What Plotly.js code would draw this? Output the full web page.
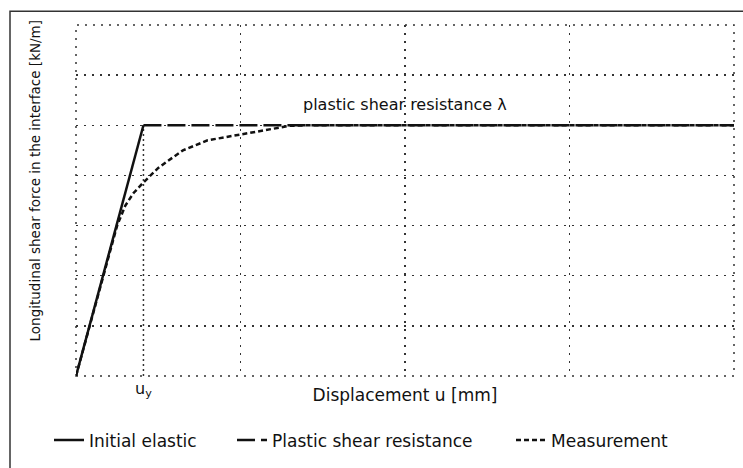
<!DOCTYPE html>
<html>
<head>
<meta charset="utf-8">
<script src="https://cdn.plot.ly/plotly-3.0.1.min.js"></script>
<style>
  html, body { margin: 0; padding: 0; background: #fff; }
  #chart { width: 743px; height: 468px; }
</style>
</head>
<body>
<div id="chart"></div>
<script>
// ---- data ----
const uy = 0.41;                 // yield displacement
const lambdaRes = 5;             // plastic shear resistance
const xMax = 4;

const elasticX = [0, uy];
const elasticY = [0, lambdaRes];

const plasticX = [uy, xMax];
const plasticY = [lambdaRes, lambdaRes];

const measX = [0, 0.1, 0.2, 0.25, 0.3, 0.35, 0.41, 0.5, 0.55, 0.65, 0.8, 1.0, 1.1, 1.2, 1.3, 1.4, 4.0];
const measY = [0, 1.22, 2.44, 3.0, 3.4, 3.65, 3.86, 4.15, 4.27, 4.5, 4.7, 4.82, 4.88, 4.94, 4.99, 5.0, 5.0];

const uyLineX = [uy, uy];
const uyLineY = [0, lambdaRes];

const seriesNames = ["Initial elastic", "Plastic shear resistance", "Measurement"];
const annotationText = "plastic shear resistance \u03bb";
const uyLabel = "u<sub>y</sub>";
const xTitle = "Displacement u [mm]";
const yTitle = "Longitudinal shear force in the interface [kN/m]";

// ---- chart ----
const FONT = "DejaVu Sans, sans-serif";
const ink = "#111";

const traces = [
  { x: uyLineX, y: uyLineY, mode: "lines", showlegend: false, hoverinfo: "skip",
    line: { color: "#333", width: 1.5, dash: "2px,3px" } },
  { x: measX, y: measY, mode: "lines", name: seriesNames[2], legend: "legend3",
    line: { color: ink, width: 2.5, dash: "5px,3px" } },
  { x: plasticX, y: plasticY, mode: "lines", name: seriesNames[1], legend: "legend2",
    line: { color: ink, width: 2.5, dash: "18px,6px" } },
  { x: elasticX, y: elasticY, mode: "lines", name: seriesNames[0], legend: "legend",
    line: { color: ink, width: 2.5 } }
];

const L = 76, R = 9, T = 25, B = 84, W = 743, H = 468;
const pw = W - L - R, ph = H - T - B;
const px2x = p => (p - L) / pw;
const py2y = p => (H - B - p) / ph;

const legendBase = px => ({
  orientation: "h",
  x: px2x(px), xanchor: "left",
  y: py2y(450), yanchor: "middle",
  font: { family: FONT, size: 17, color: ink },
  bgcolor: "rgba(0,0,0,0)"
});

const gridDash = "2px,6px";

const layout = {
  width: W, height: H,
  margin: { l: L, r: R, t: T, b: B },
  paper_bgcolor: "#fff", plot_bgcolor: "#fff",
  font: { family: FONT, color: ink, size: 16 },
  showlegend: true,
  legend: legendBase(49),
  legend2: legendBase(232),
  legend3: legendBase(511),
  xaxis: {
    range: [0, xMax], dtick: 1, tick0: 0,
    showticklabels: false, ticks: "",
    showline: false, zeroline: false,
    showgrid: true, gridcolor: "#333", gridwidth: 1.5, griddash: gridDash,
    title: { text: xTitle, standoff: 13, font: { family: FONT, size: 17, color: ink } },
    automargin: false, fixedrange: true
  },
  yaxis: {
    range: [0, 7], dtick: 1, tick0: 0,
    showticklabels: false, ticks: "",
    showline: false, zeroline: false,
    showgrid: true, gridcolor: "#333", gridwidth: 1.5, griddash: gridDash,
    automargin: false, fixedrange: true
  },
  annotations: [
    { x: 2.0, y: lambdaRes + 0.42, xref: "x", yref: "y", text: annotationText,
      showarrow: false, font: { family: FONT, size: 16, color: ink } },
    { x: uy, y: py2y(411), xref: "x", yref: "paper", text: uyLabel,
      showarrow: false, font: { family: FONT, size: 16, color: ink } },
    { x: px2x(35), y: py2y(185), xref: "paper", yref: "paper", text: yTitle,
      textangle: -90, showarrow: false, xanchor: "center", yanchor: "middle",
      font: { family: FONT, size: 13.5, color: ink } }
  ],
  shapes: [
    { type: "rect", xref: "paper", yref: "paper", x0: 0, x1: 1, y0: 0, y1: 1,
      line: { color: "#333", width: 1.5, dash: gridDash }, layer: "below" },
    { type: "path", xref: "paper", yref: "paper",
      path: `M ${px2x(10)} ${py2y(480)} L ${px2x(10)} ${py2y(11)} L ${px2x(760)} ${py2y(11)}`,
      line: { color: "#333", width: 1.5 } }
  ]
};

Plotly.newPlot("chart", traces, layout, { displayModeBar: false, staticPlot: true });
</script>
</body>
</html>
